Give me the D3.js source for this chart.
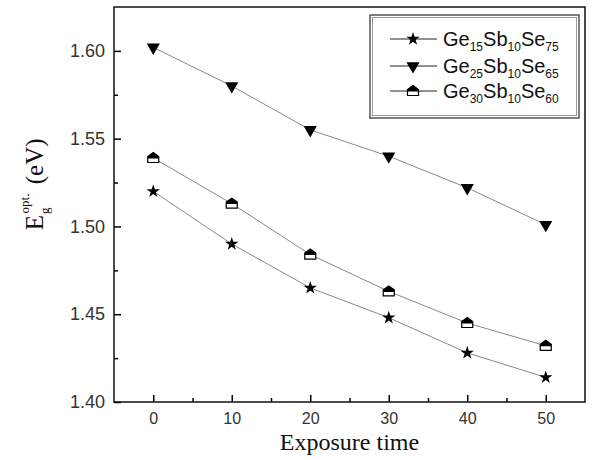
<!DOCTYPE html>
<html>
<head>
<meta charset="utf-8">
<script src="https://cdn.jsdelivr.net/npm/d3@7"></script>
<style>
  body { margin: 0; background: #fff; }
  svg { display: block; }
  .tick text { font-family: Arial, "Liberation Sans", sans-serif; fill: #333; }
  .xax .tick text { font-size: 16px; }
  .yax .tick text { font-size: 18px; }
</style>
</head>
<body>
<div id="chart"></div>
<script>
const times = [0, 10, 20, 30, 40, 50];
const seriesNames = [
  ['15', '10', '75'],
  ['25', '10', '65'],
  ['30', '10', '60']
];
const ge15 = [1.520, 1.490, 1.465, 1.448, 1.428, 1.414];
const ge25 = [1.602, 1.580, 1.555, 1.540, 1.522, 1.501];
const ge30 = [1.539, 1.513, 1.484, 1.463, 1.445, 1.432];
const xTicks = [0, 10, 20, 30, 40, 50];
const yTicks = [1.40, 1.45, 1.50, 1.55, 1.60];

const width = 597, height = 460;
const margin = { top: 7, right: 12, bottom: 58, left: 114 };

const svg = d3.select('#chart')
  .append('svg')
  .attr('width', width)
  .attr('height', height);

const x = d3.scaleLinear().domain([-5, 55]).range([margin.left, width - margin.right]);
const y = d3.scaleLinear().domain([1.40, 1.625]).range([height - margin.bottom, margin.top]);

// inward ticks, minor ones in between
const xMinor = d3.range(-5, 56, 5).filter(v => v % 10 !== 0 && v > -5 && v < 55);
const yMinor = d3.range(1.425, 1.625, 0.05);

svg.append('g')
  .attr('class', 'xax')
  .attr('transform', `translate(0,${y.range()[0]})`)
  .call(d3.axisBottom(x).tickValues(xTicks).tickSize(-7).tickPadding(11).tickFormat(d3.format('d')))
  .call(g => g.select('.domain').remove())
  .call(g => g.selectAll('.tick line').attr('stroke-width', 1.5));

svg.append('g')
  .attr('transform', `translate(0,${y.range()[0]})`)
  .call(d3.axisBottom(x).tickValues(xMinor).tickSize(-4).tickFormat(''))
  .call(g => g.select('.domain').remove())
  .call(g => g.selectAll('.tick line').attr('stroke-width', 1.5));

svg.append('g')
  .attr('class', 'yax')
  .attr('transform', `translate(${x.range()[0]},0)`)
  .call(d3.axisLeft(y).tickValues(yTicks).tickSize(-7).tickPadding(9).tickFormat(d3.format('.2f')))
  .call(g => g.select('.domain').remove())
  .call(g => g.selectAll('.tick line').attr('stroke-width', 1.5));

svg.append('g')
  .attr('transform', `translate(${x.range()[0]},0)`)
  .call(d3.axisLeft(y).tickValues(yMinor).tickSize(-4).tickFormat(''))
  .call(g => g.select('.domain').remove())
  .call(g => g.selectAll('.tick line').attr('stroke-width', 1.5));

// frame
svg.append('rect')
  .attr('x', x.range()[0])
  .attr('y', y.range()[1])
  .attr('width', x.range()[1] - x.range()[0])
  .attr('height', y.range()[0] - y.range()[1])
  .attr('fill', 'none')
  .attr('stroke', '#111')
  .attr('stroke-width', 1.5);

const star = d3.symbol().type(d3.symbolStar).size(55);
const tri = d3.symbol().type(d3.symbolTriangle).size(75);

function drawMarker(g, kind) {
  if (kind === 0) {
    g.append('path').attr('d', star()).attr('fill', '#000');
  } else if (kind === 1) {
    g.append('path').attr('d', tri()).attr('transform', 'rotate(180)').attr('fill', '#000');
  } else {
    // half filled "house" marker: black roof, white body
    g.append('path').attr('d', 'M0,-5.5L5.5,-1.5L5.5,4.5L-5.5,4.5L-5.5,-1.5Z')
      .attr('fill', '#fff').attr('stroke', '#000').attr('stroke-width', 1.2);
    g.append('path').attr('d', 'M0,-5.5L5.5,-1.5L5.5,0.5L-5.5,0.5L-5.5,-1.5Z').attr('fill', '#000');
  }
}

const line = d3.line()
  .x((d, i) => x(times[i]))
  .y(d => y(d));

const allSeries = [ge15, ge25, ge30];

allSeries.forEach((vals, k) => {
  svg.append('path')
    .datum(vals)
    .attr('d', line)
    .attr('fill', 'none')
    .attr('stroke', '#888')
    .attr('stroke-width', 1);

  vals.forEach((v, i) => {
    const g = svg.append('g').attr('transform', `translate(${x(times[i])},${y(v)})`);
    drawMarker(g, k);
  });
});

// legend
const legend = svg.append('g');
legend.append('rect')
  .attr('x', 370).attr('y', 15).attr('width', 209).attr('height', 103)
  .attr('fill', '#fff').attr('stroke', '#555').attr('stroke-width', 1.5);
legend.append('rect')
  .attr('x', 372.5).attr('y', 17.5).attr('width', 204).attr('height', 98)
  .attr('fill', 'none').attr('stroke', '#999').attr('stroke-width', 1);

const rowY = [39, 66, 91];
seriesNames.forEach((sub, k) => {
  const row = legend.append('g').attr('transform', `translate(0,${rowY[k]})`);
  row.append('line').attr('x1', 390).attr('x2', 437).attr('y1', 0).attr('y2', 0)
    .attr('stroke', '#222').attr('stroke-width', 1);
  drawMarker(row.append('g').attr('transform', 'translate(413,0)'), k);
  const t = row.append('text')
    .attr('x', 443).attr('y', 7)
    .attr('font-family', 'Arial, "Liberation Sans", sans-serif')
    .attr('font-size', 20)
    .attr('fill', '#111');
  ['Ge', 'Sb', 'Se'].forEach((el, j) => {
    t.append('tspan').text(el).attr('dy', j === 0 ? 0 : -5).attr('font-size', 20);
    t.append('tspan').text(sub[j]).attr('dy', 5).attr('font-size', 12);
  });
});

// axis titles
svg.append('text')
  .attr('x', x(25))
  .attr('y', 450)
  .attr('text-anchor', 'middle')
  .attr('font-family', '"Liberation Serif", "Times New Roman", serif')
  .attr('font-size', 24)
  .attr('fill', '#111')
  .text('Exposure time');

const yl = svg.append('text')
  .attr('transform', `translate(43,${y(1.524)}) rotate(-90)`)
  .attr('text-anchor', 'middle')
  .attr('font-family', '"Liberation Serif", "Times New Roman", serif')
  .attr('font-size', 25)
  .attr('fill', '#111');
yl.append('tspan').text('E');
yl.append('tspan').text('g').attr('font-size', 13).attr('dx', 1).attr('dy', 6);
yl.append('tspan').text('opt.').attr('font-size', 13).attr('dx', -6).attr('dy', -20);
yl.append('tspan').text(' (eV)').attr('dx', 3).attr('dy', 14);
</script>
</body>
</html>
